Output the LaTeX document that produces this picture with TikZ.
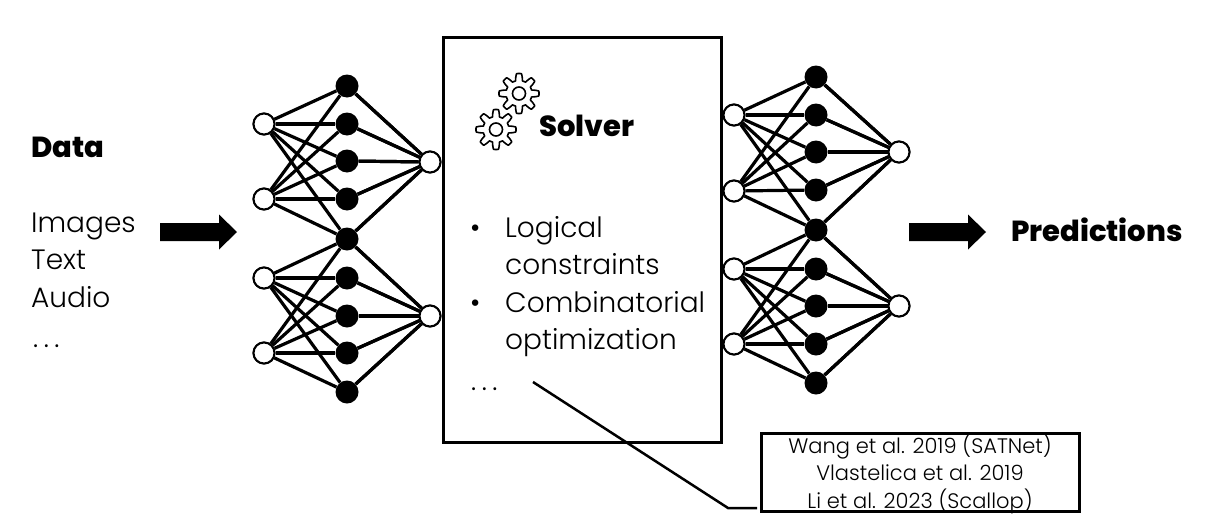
\documentclass[tikz,border=0pt]{standalone}
\usepackage{fontspec}
\setmainfont[UprightFont=* Light,BoldFont=* ExtraBold]{Poppins}
\tikzset{
  x=1pt,y=-1pt,
  wn/.style={circle,draw=black,fill=white,line width=2pt,minimum size=21pt,inner sep=0pt},
  bn/.style={circle,fill=black,minimum size=23pt,inner sep=0pt},
  edge/.style={line width=3.2pt},
  frame/.style={draw=black,line width=3pt},
  lab/.style={font=\fontsize{28}{37.5}\selectfont,anchor=base west,inner sep=0pt,align=left},
  head/.style={font=\fontsize{29}{35}\selectfont\bfseries,inner sep=0pt,anchor=base west},
  cite/.style={font=\fontsize{21}{27.5}\selectfont,anchor=base,inner sep=0pt},
  gear/.style={line width=1.6pt},
}
\newcommand{\gearat}[2]{%
  \draw[gear,shift={(#1,#2)}] plot[domain=0:360,samples=289,smooth] (\x:{16.5+3.5*min(1,max(-1,1.8*cos(8*\x)))}) -- cycle;
  \draw[gear] (#1,#2) circle (6.5);
}
\newcommand{\blockarrow}[2]{%
  \fill[black] (#1,#2-9) -- ++(59,0) -- ++(0,-8.5) -- (#1+77,#2) -- (#1+59,#2+17.5) -- ++(0,-8.5) -- (#1,#2+9) -- cycle;
}
\newcommand{\spaceddots}{.\hspace{5.5pt}.\hspace{5.5pt}.}
\begin{document}
\begin{tikzpicture}
\useasboundingbox (0,0) rectangle (1222,522);
% left network
\foreach \n/\y in {1/86,2/124,3/161,4/199,5/239,6/278,7/316,8/353,9/392} \node[bn] (L\n) at (347,\y) {};
\foreach \n/\y in {1/124,2/199,3/278,4/353} \node[wn] (LI\n) at (264,\y) {};
\foreach \n/\y in {1/162,2/316} \node[wn] (LO\n) at (430,\y) {};
% right network
\foreach \n/\y in {1/77,2/115,3/152,4/190,5/230,6/269,7/306,8/344,9/383} \node[bn] (R\n) at (816,\y) {};
\foreach \n/\y in {1/115,2/191,3/269,4/344} \node[wn] (RI\n) at (734,\y) {};
\foreach \n/\y in {1/152,2/306} \node[wn] (RO\n) at (899,\y) {};
\foreach \P in {L,R}{
  \foreach \i/\o/\lo/\hi in {1/1/1/5,2/1/1/5,3/2/5/9,4/2/5/9}{
    \foreach \b in {\lo,...,\hi}{
      \draw[edge] (\P I\i) -- (\P\b);
      \draw[edge] (\P\b) -- (\P O\o);
    }
  }
}
\foreach \P in {L,R}{
  \foreach \n in {1,...,4}{\node[wn] at (\P I\n) {};}
  \foreach \n in {1,2}{\node[wn] at (\P O\n) {};}
}
% solver box
\node[frame,minimum width=278pt,minimum height=405pt,inner sep=0pt,fill=none] (solver) at (582,239.5) {};
% arrows
\blockarrow{160}{232}
\blockarrow{909}{232}
% left text
\node[head] (data) at (31,157) {Data};
\node[lab] (i1) at (31,232) {Images};
\node[lab] (i2) at (31,269) {Text};
\node[lab] (i3) at (31,307) {Audio};
\node[lab] (i4) at (33,347) {\spaceddots};
\node[head] (pred) at (1011,241) {Predictions};
% solver
\gearat{519}{93.5}
\gearat{496}{129.5}
\node[head] (stitle) at (539,136) {Solver};
\node[lab] (b1) at (470,237) {•};
\node[lab] (t1) at (505,237) {Logical};
\node[lab] (t1b) at (505,274) {constraints};
\node[lab] (b2) at (470,312) {•};
\node[lab] (t2) at (505,312) {Combinatorial};
\node[lab] (t2b) at (505,349) {optimization};
\node[lab] (dots) at (471,390) {\spaceddots};
% callout
\node[frame,minimum width=318pt,minimum height=78pt,inner sep=0pt] (refs) at (920,472) {};
\node[cite] (r1) at (920,453) {Wang et al. 2019 (SATNet)};
\node[cite] (r2) at (920,480) {Vlastelica et al. 2019};
\node[cite] (r3) at (920,508) {Li et al. 2023 (Scallop)};
\coordinate (cstart) at (533,382);
\coordinate (cbend) at (728,508);
\coordinate (cend) at (757,508);
\draw[line width=2.5pt] (cstart) -- (cbend) -- (cend);
\end{tikzpicture}
\end{document}
